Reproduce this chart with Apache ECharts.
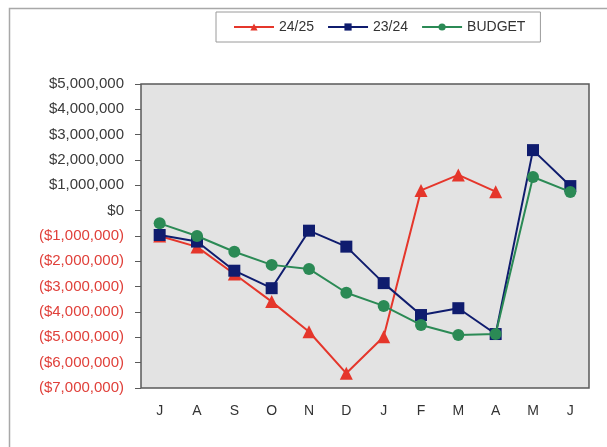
<!DOCTYPE html>
<html>
<head>
<meta charset="utf-8">
<script src="https://cdn.jsdelivr.net/npm/echarts@6/dist/echarts.min.js"></script>
<style>
  html, body { margin: 0; padding: 0; background: #ffffff; }
  #chart { width: 607px; height: 447px; }
</style>
</head>
<body>
<div id="chart"></div>
<script>
// Month initials, July through June
const months = ['J', 'A', 'S', 'O', 'N', 'D', 'J', 'F', 'M', 'A', 'M', 'J'];

// Cumulative position in dollars
const season2425 = [-1000000, -1430000, -2500000, -3590000, -4780000, -6420000, -4980000, 800000, 1410000, 750000, null, null];
const season2324 = [-960000, -1220000, -2370000, -3060000, -790000, -1420000, -2860000, -4120000, -3850000, -4870000, 2390000, 970000];
const budget = [-500000, -1000000, -1620000, -2140000, -2300000, -3240000, -3760000, -4510000, -4910000, -4870000, 1330000, 740000];

const seriesNames = ['24/25', '23/24', 'BUDGET'];

const yMin = -7000000;
const yMax = 5000000;
const yStep = 1000000;

const RED = '#e5362b';
const NAVY = '#0f1c6e';
const GREEN = '#2b8a55';

function money(v) {
  const s = '$' + Math.abs(v).toLocaleString('en-US');
  return v < 0 ? '{neg|(' + s + ')}' : '{pos|' + s + '}';
}

const chart = echarts.init(document.getElementById('chart'), null, { renderer: 'canvas' });

chart.setOption({
  animation: false,
  backgroundColor: '#ffffff',
  textStyle: { fontFamily: 'Liberation Sans, Arial, sans-serif' },
  graphic: [
    {
      type: 'rect',
      silent: true,
      shape: { x: 9.5, y: 8.5, width: 700, height: 600 },
      style: { fill: 'none', stroke: '#a8a8a8', lineWidth: 1.5 },
      z: -10
    }
  ],
  legend: {
    data: seriesNames,
    left: 216,
    top: 12,
    padding: [8, 15, 8, 17],
    borderColor: '#9a9a9a',
    borderWidth: 1,
    itemWidth: 40,
    itemHeight: 9,
    itemGap: 13,
    textStyle: { fontSize: 14, color: '#333333', fontFamily: 'Liberation Sans, Arial, sans-serif' }
  },
  grid: {
    left: 141,
    top: 84,
    width: 448,
    height: 304,
    show: true,
    backgroundColor: '#e3e3e3',
    borderColor: '#5a5a5a',
    borderWidth: 1.5
  },
  xAxis: {
    type: 'category',
    data: months,
    boundaryGap: true,
    axisLine: { show: false },
    axisTick: { show: false },
    axisLabel: { fontSize: 14, color: '#333333', margin: 16 }
  },
  yAxis: {
    type: 'value',
    min: yMin,
    max: yMax,
    interval: yStep,
    splitLine: { show: false },
    axisLine: { show: false },
    axisTick: { show: true, length: 6, lineStyle: { color: '#5a5a5a' } },
    axisLabel: {
      margin: 17,
      formatter: money,
      rich: {
        pos: { fontSize: 15, color: '#3a3a3a' },
        neg: { fontSize: 15, color: '#e0403a' }
      }
    }
  },
  series: [
    {
      name: seriesNames[0],
      type: 'line',
      data: season2425,
      symbol: 'triangle',
      symbolSize: 13,
      color: RED,
      lineStyle: { width: 2, color: RED },
      itemStyle: { color: RED },
      z: 2
    },
    {
      name: seriesNames[1],
      type: 'line',
      data: season2324,
      symbol: 'rect',
      symbolSize: 12,
      color: NAVY,
      lineStyle: { width: 2, color: NAVY },
      itemStyle: { color: NAVY },
      z: 3
    },
    {
      name: seriesNames[2],
      type: 'line',
      data: budget,
      symbol: 'circle',
      symbolSize: 12,
      color: GREEN,
      lineStyle: { width: 2, color: GREEN },
      itemStyle: { color: GREEN },
      z: 4
    }
  ]
});
</script>
</body>
</html>
